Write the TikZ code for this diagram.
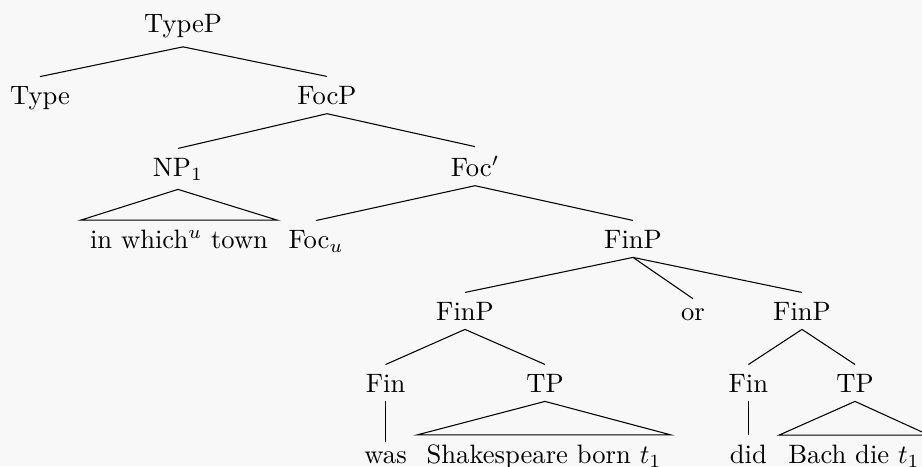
\documentclass[tikz,border=0pt]{standalone}
\begin{document}
\begin{tikzpicture}[x=0.3759pt,y=-0.3759pt,
  tn/.style={anchor=base,inner sep=3.33pt},
  branch/.style={line width=0.4pt},
  roof/.style={line width=0.4pt}]
\definecolor{paper}{HTML}{F8F8F8}
\fill[paper] (0,0) rectangle (922,466);
\useasboundingbox (0,0) rectangle (922,466);
\clip (0,0) rectangle (922,466);

% level 0
\node[tn] (typep) at (183,32) {TypeP};
% level 1
\node[tn] (type) at (40,104) {Type};
\node[tn] (focp) at (327,104) {FocP};
% level 2
\node[tn] (np) at (178,176) {NP$_1$};
\node[tn] (focbar) at (475,176) {Foc$'$};
% level 3
\node[tn] (whichtown) at (179,248) {in which$^u$ town};
\node[tn] (focu) at (316,248) {Foc$_u$};
\node[tn] (finp) at (633,248) {FinP};
% level 4
\node[tn] (finpa) at (465,320) {FinP};
\node[tn] (or) at (693,320) {or};
\node[tn] (finpb) at (802,320) {FinP};
% level 5
\node[tn] (fina) at (385.6,392) {Fin};
\node[tn] (tpa) at (545,392) {TP};
\node[tn] (finb) at (748.4,392) {Fin};
\node[tn] (tpb) at (855,392) {TP};
% level 6
\node[tn] (was) at (385.6,463) {was};
\node[tn] (shak) at (544,463) {Shakespeare born $t_1$};
\node[tn] (did) at (748.4,463) {did};
\node[tn] (bach) at (854,463) {Bach die $t_1$};

% branches
\draw[branch] (typep.south) -- (type.north);
\draw[branch] (typep.south) -- (focp.north);
\draw[branch] (focp.south) -- (np.north);
\draw[branch] (focp.south) -- (focbar.north);
\draw[branch] (focbar.south) -- (focu.north);
\draw[branch] (focbar.south) -- (finp.north);
\draw[branch] (finp.south) -- (finpa.north);
\draw[branch] (finp.south) -- (or.north);
\draw[branch] (finp.south) -- (finpb.north);
\draw[branch] (finpa.south) -- (fina.north);
\draw[branch] (finpa.south) -- (tpa.north);
\draw[branch] (finpb.south) -- (finb.north);
\draw[branch] (finpb.south) -- (tpb.north);
\draw[branch] (fina.south) -- (was.north);
\draw[branch] (finb.south) -- (did.north);

% roofs over unanalysed constituents
\draw[roof] (np.south) -- (whichtown.north west) -- (whichtown.north east) -- cycle;
\draw[roof] (tpa.south) -- (shak.north west) -- (shak.north east) -- cycle;
\draw[roof] (tpb.south) -- (bach.north west) -- (bach.north east) -- cycle;
\end{tikzpicture}
\end{document}
